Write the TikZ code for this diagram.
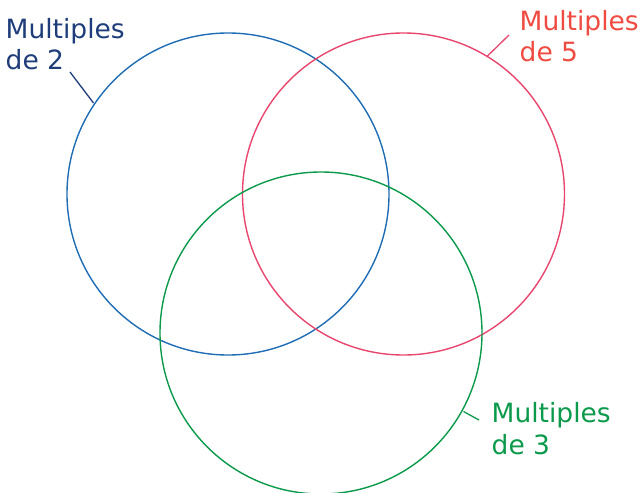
\documentclass[tikz,border=0pt]{standalone}
\usepackage{fontspec}
\setmainfont{DejaVu Sans}
\definecolor{cblue}{HTML}{1F6DB4}
\definecolor{lblue}{HTML}{1F3D7A}
\definecolor{cpink}{HTML}{E8466E}
\definecolor{lred}{HTML}{EF4B40}
\definecolor{cgreen}{HTML}{0B9A4B}
\tikzset{
  set/.style={line width=1.4pt},
  setlabel/.style={anchor=base west, inner sep=0pt, align=left,
    font=\fontsize{26.5}{31.5}\selectfont},
  leader/.style={line width=1.3pt}
}
\begin{document}
\begin{tikzpicture}[x=1pt,y=-1pt]
  \useasboundingbox (0,0) rectangle (641,493);
  % the three sets
  \draw[set, cblue]  (228,194) circle (161);
  \draw[set, cpink]  (403.5,194) circle (161);
  \draw[set, cgreen] (321,333) circle (161);
  % labels (anchored on the baseline of their last line)
  \node[setlabel, text=lblue] (l2) at (5.5,69.5) {Multiples\\de 2};
  \node[setlabel, text=lred]  (l5) at (519.5,61.5) {Multiples\\de 5};
  \node[setlabel, text=cgreen] (l3) at (491.5,454) {Multiples\\de 3};
  % leader lines from the labels to the circles
  \coordinate (a2) at (70,72);   \coordinate (b2) at (93.5,103);
  \coordinate (a5) at (509,35);  \coordinate (b5) at (487,56.5);
  \coordinate (a3) at (479,420); \coordinate (b3) at (463.5,411.5);
  \draw[leader, lblue]  (a2) -- (b2);
  \draw[leader, cpink]  (a5) -- (b5);
  \draw[leader, cgreen] (a3) -- (b3);
\end{tikzpicture}
\end{document}
